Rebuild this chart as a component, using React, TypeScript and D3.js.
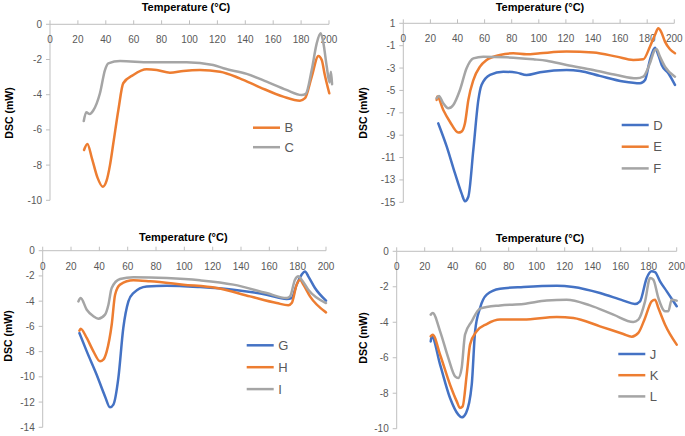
import React from "react";
import * as d3 from "d3";

// ---- Data (temperature °C, DSC mW) ----
const xTicks = [0, 20, 40, 60, 80, 100, 120, 140, 160, 180, 200];
const yTicksA = [0, -2, -4, -6, -8, -10];
const yTicksB = [1, -1, -3, -5, -7, -9, -11, -13, -15];
const yTicksC = [0, -2, -4, -6, -8, -10, -12, -14];
const yTicksD = [0, -2, -4, -6, -8, -10];

const seriesB: [number, number][] = [
  [24.4, -7.14], [26.8, -6.8], [30, -7.6], [34, -8.7], [37.8, -9.23], [40.5, -8.9], [43, -8.0], [45.4, -6.76], [49, -4.87],
  [52.5, -3.35], [59.7, -2.88], [69.3, -2.56], [76.5, -2.6], [86, -2.75], [95.6, -2.65], [107.5, -2.6],
  [121.9, -2.69], [136, -3.07], [150.5, -3.58], [167.2, -4.11], [179.2, -4.34], [182.8, -4.2],
  [187.6, -2.98], [192.4, -1.8], [194.8, -2.03], [197, -2.88], [200.2, -3.92],
];
const seriesC: [number, number][] = [
  [24.2, -5.5], [26, -5.0], [28.5, -5.1], [31, -4.9], [35.8, -3.92], [39.4, -2.6], [41.8, -2.22], [50.2, -2.09],
  [71.7, -2.16], [98, -2.16], [117, -2.31], [124.3, -2.5], [141, -2.82], [155.3, -3.26],
  [169.5, -3.73], [180.4, -4.02], [183.3, -3.95], [187.6, -2.6], [191.2, -1.08], [194, -0.51],
  [196, -1.08], [198.4, -2.41], [200.4, -3.3], [201.4, -2.7], [202.2, -3.4],
];
const seriesD: [number, number][] = [
  [25.8, -7.94], [26.6, -8.2], [32, -10.0], [38.1, -12.4], [43, -14.2], [45.5, -14.9], [48, -14.5],
  [51.7, -10.3], [55.4, -5.85], [57.8, -4.5], [64, -3.6], [73.8, -3.32], [83.6, -3.41], [91, -3.62],
  [100.9, -3.38], [120.5, -3.17], [130.4, -3.26], [145, -3.7], [162.4, -4.2], [174.7, -4.36],
  [178.4, -4.07], [182, -2.28], [185.7, -1.18], [188.2, -1.83], [190.7, -2.73], [195.6, -3.47], [200.5, -4.51],
];
const seriesE: [number, number][] = [
  [24.6, -5.85], [25.1, -5.55], [29.5, -6.75], [34.4, -7.8], [40.6, -8.77], [43, -8.68], [45.5, -7.94],
  [48, -5.85], [51.7, -4.07], [56.6, -2.87], [61.5, -2.28], [71.3, -1.83], [81.2, -1.68], [91, -1.77],
  [100.9, -1.68], [120.5, -1.53], [140.2, -1.62], [157.4, -1.98], [169.7, -2.28], [177.1, -2.22],
  [182, -1.09], [185.7, -0.04], [188.2, 0.55], [190.2, 0.26], [193.1, -0.64], [196.8, -1.32], [200.5, -1.68],
];
const seriesF: [number, number][] = [
  [24.6, -5.7], [26.3, -5.5], [29.5, -6.15], [33.2, -6.6], [36.9, -6.3], [41.8, -4.96], [46.7, -3.02],
  [51.7, -2.13], [59, -1.98], [76.3, -2.04], [95.9, -2.22], [105.8, -2.34], [120.5, -2.72],
  [140.2, -3.17], [157.4, -3.62], [172.2, -3.92], [177.1, -3.77], [182, -2.58], [185.7, -1.38],
  [187, -1.32], [189.4, -1.98], [193.1, -2.87], [200.5, -3.77],
];
const seriesG: [number, number][] = [
  [25.9, -6.53], [31.1, -7.98], [38.1, -9.83], [44, -11.55], [47.5, -12.42], [49.9, -12.2], [53.4, -10.1],
  [56.9, -6.13], [60.5, -4.02], [64, -3.36], [73.4, -2.83], [87.5, -2.77], [111, -2.88], [134.6, -3.09],
  [158.1, -3.49], [172.2, -3.83], [175.8, -3.75], [179.3, -2.69], [182.8, -1.9], [185.2, -1.64],
  [187.5, -2.03], [192.2, -2.96], [200, -3.96],
];
const seriesH: [number, number][] = [
  [25.9, -6.34], [26.8, -6.18], [31.1, -6.92], [35.8, -7.98], [40.5, -8.77], [42.8, -8.64], [45.2, -7.98],
  [48.7, -5.87], [51.1, -3.49], [54.6, -2.69], [64, -2.35], [75.8, -2.43], [99.3, -2.69], [122.8, -2.96],
  [146.4, -3.62], [165.2, -4.15], [173.4, -4.33], [175.8, -4.15], [179.3, -2.69], [181.6, -2.3],
  [184, -2.69], [188.7, -3.62], [200, -4.89],
];
const seriesI: [number, number][] = [
  [25.2, -4.02], [26.8, -3.75], [31.1, -4.68], [35.8, -5.2], [39.3, -5.39], [44, -5.07], [46.4, -4.28],
  [48.7, -2.96], [54.6, -2.25], [64, -2.11], [87.5, -2.17], [111, -2.35], [134.6, -2.69], [158.1, -3.36],
  [172.2, -3.75], [174.6, -3.62], [178.1, -2.3], [180.5, -2.03], [182.8, -2.3], [187.5, -3.09], [200, -4.15],
];
const seriesJ: [number, number][] = [
  [24.3, -5.08], [25, -4.79], [31, -6.39], [38.1, -8.27], [44, -9.21], [46.4, -9.36], [49.5, -9.12],
  [53.6, -7.52], [56, -4.51], [59.5, -3.2], [64.3, -2.44], [73.8, -2.11], [90.5, -2.01], [114.3, -1.94],
  [126.2, -2.01], [145.2, -2.35], [161.9, -2.78], [170.2, -2.97], [173.8, -2.82], [178.6, -1.5],
  [182.1, -1.13], [184.5, -1.17], [188.1, -1.69], [192.9, -2.26], [200, -3.1],
];
const seriesK: [number, number][] = [
  [24.3, -4.79], [25.7, -4.7], [31, -5.83], [38.1, -7.52], [42.9, -8.46], [45.2, -8.83], [47.1, -8.74],
  [50, -6.95], [52.4, -5.26], [57.1, -4.51], [64.3, -4.1], [73.8, -3.85], [90.5, -3.85], [114.3, -3.7],
  [126.2, -3.76], [145.2, -4.23], [161.9, -4.66], [167.9, -4.81], [172.6, -4.6], [177.4, -3.76],
  [182.1, -2.82], [184.5, -2.73], [186.9, -3.2], [191.7, -4.14], [200, -5.26],
];
const seriesL: [number, number][] = [
  [24.3, -3.57], [25.7, -3.48], [31, -4.51], [36.9, -6.02], [41.7, -7.05], [44, -7.14], [46.4, -6.58],
  [48.8, -4.7], [53.6, -3.95], [59.5, -3.23], [73.8, -3.05], [90.5, -2.97], [107.1, -2.78], [121.4, -2.73],
  [138.1, -3.05], [154.8, -3.57], [169, -3.98], [172.6, -3.85], [177.4, -2.82], [181, -1.5], [183.3, -1.6],
  [186.9, -2.63], [191.7, -3.38], [194, -3.38], [196.4, -2.73], [200, -2.78],
];

const BLUE = "#4472C4";
const ORANGE = "#ED7D31";
const GRAY = "#A5A5A5";
const AXIS = "#BFBFBF";
const TEXT = "#595959";
const FONT = "'Liberation Sans', Arial, sans-serif";

type Series = { name: string; color: string; data: [number, number][] };
type PanelCfg = {
  x0: number; x1: number; y0: number; y1: number; // pixel extents of plot
  yMax: number; yMin: number; yTicks: number[];
  titleX: number; titleY: number; ylabX: number; ylabY: number;
  legX: number; legY: number; legGap: number;
  series: Series[];
};

const panels: PanelCfg[] = [
  {
    x0: 50, x1: 329, y0: 24.3, y1: 200.3, yMax: 0, yMin: -10, yTicks: yTicksA,
    titleX: 186, titleY: 7, ylabX: 8.5, ylabY: 113, legX: 253, legY: 127.7, legGap: 19.5,
    series: [
      { name: "B", color: ORANGE, data: seriesB },
      { name: "C", color: GRAY, data: seriesC },
    ],
  },
  {
    x0: 403.3, x1: 674.3, y0: 23.3, y1: 202.3, yMax: 1, yMin: -15, yTicks: yTicksB,
    titleX: 540, titleY: 7, ylabX: 362.7, ylabY: 113, legX: 621.7, legY: 125, legGap: 21.7,
    series: [
      { name: "D", color: BLUE, data: seriesD },
      { name: "E", color: ORANGE, data: seriesE },
      { name: "F", color: GRAY, data: seriesF },
    ],
  },
  {
    x0: 42.7, x1: 326, y0: 250.7, y1: 427.3, yMax: 0, yMin: -14, yTicks: yTicksC,
    titleX: 183.3, titleY: 237, ylabX: 8.3, ylabY: 336, legX: 246.7, legY: 345.3, legGap: 21.9,
    series: [
      { name: "G", color: BLUE, data: seriesG },
      { name: "H", color: ORANGE, data: seriesH },
      { name: "I", color: GRAY, data: seriesI },
    ],
  },
  {
    x0: 396.7, x1: 676.7, y0: 251.3, y1: 428.7, yMax: 0, yMin: -10, yTicks: yTicksD,
    titleX: 540, titleY: 238, ylabX: 362.7, ylabY: 338, legX: 618.3, legY: 354, legGap: 21.2,
    series: [
      { name: "J", color: BLUE, data: seriesJ },
      { name: "K", color: ORANGE, data: seriesK },
      { name: "L", color: GRAY, data: seriesL },
    ],
  },
];

function Panel({ p }: { p: PanelCfg }) {
  const x = d3.scaleLinear().domain([0, 200]).range([p.x0, p.x1]);
  const y = d3.scaleLinear().domain([p.yMin, p.yMax]).range([p.y1, p.y0]);
  const line = d3
    .line<[number, number]>()
    .x((d) => x(d[0]))
    .y((d) => y(d[1]))
    .curve(d3.curveMonotoneX);
  const axisY = y(p.yMax);
  return (
    <g>
      <text x={p.titleX} y={p.titleY} textAnchor="middle" dominantBaseline="central"
        fontFamily={FONT} fontSize={11} fontWeight="bold" fill="#000">
        Temperature (°C)
      </text>
      <text transform={`translate(${p.ylabX},${p.ylabY}) rotate(-90)`} textAnchor="middle"
        dominantBaseline="central" fontFamily={FONT} fontSize={10.5} fontWeight="bold" fill="#000">
        DSC (mW)
      </text>
      {/* y axis */}
      <line x1={p.x0} x2={p.x0} y1={p.y0} y2={p.y1} stroke={AXIS} strokeWidth={1} />
      {p.yTicks.map((t) => (
        <g key={"y" + t}>
          <line x1={p.x0 - 4} x2={p.x0} y1={y(t)} y2={y(t)} stroke={AXIS} />
          <text x={p.x0 - 8} y={y(t)} textAnchor="end" dominantBaseline="central"
            fontFamily={FONT} fontSize={10} fill={TEXT}>
            {t}
          </text>
        </g>
      ))}
      {/* x axis at top */}
      <line x1={p.x0} x2={p.x1} y1={axisY} y2={axisY} stroke={AXIS} strokeWidth={1} />
      {xTicks.map((t) => (
        <g key={"x" + t}>
          <line x1={x(t)} x2={x(t)} y1={axisY - 4} y2={axisY} stroke={AXIS} />
          <text x={x(t)} y={axisY + 15.5} textAnchor="middle" dominantBaseline="central"
            fontFamily={FONT} fontSize={10} fill={TEXT}>
            {t}
          </text>
        </g>
      ))}
      {p.series.map((s) => (
        <path key={s.name} d={line(s.data) || ""} fill="none" stroke={s.color}
          strokeWidth={2.5} strokeLinejoin="round" strokeLinecap="round" />
      ))}
      {p.series.map((s, i) => (
        <g key={"l" + s.name}>
          <line x1={p.legX} x2={p.legX + 27} y1={p.legY + i * p.legGap} y2={p.legY + i * p.legGap}
            stroke={s.color} strokeWidth={2.5} />
          <text x={p.legX + 31.5} y={p.legY + i * p.legGap} dominantBaseline="central"
            fontFamily={FONT} fontSize={13} fill={TEXT}>
            {s.name}
          </text>
        </g>
      ))}
    </g>
  );
}

export default function App() {
  return (
    <svg width={685} height={436} style={{ position: "absolute", left: 0, top: 0, background: "#fff" }}>
      <rect width={685} height={436} fill="#fff" />
      {panels.map((p, i) => (
        <Panel key={i} p={p} />
      ))}
    </svg>
  );
}
